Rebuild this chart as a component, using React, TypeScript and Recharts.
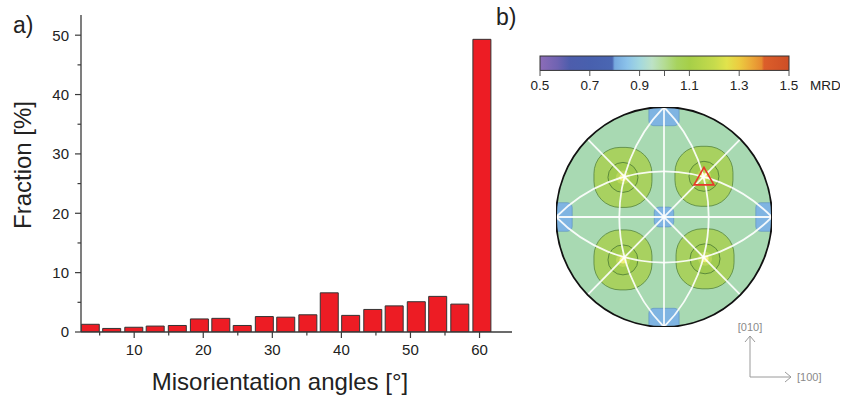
import {
  BarChart,
  Bar,
  XAxis,
  YAxis,
  ScatterChart,
  Scatter,
  Label,
} from "recharts";

// ---- panel a) misorientation histogram ----
const ANGLES = [3.6, 6.7, 9.9, 13.0, 16.2, 19.4, 22.5, 25.6, 28.8, 31.9, 35.1, 38.2, 41.3, 44.5, 47.6, 50.8, 53.9, 57.1, 60.3];
const FRACTIONS = [1.3, 0.6, 0.8, 1.0, 1.1, 2.2, 2.3, 1.1, 2.6, 2.5, 2.9, 6.6, 2.8, 3.8, 4.4, 5.1, 6.0, 4.7, 49.3];
const X_TICKS = [5, 10, 15, 20, 25, 30, 35, 40, 45, 50, 55, 60];
const Y_TICKS = [0, 5, 10, 15, 20, 25, 30, 35, 40, 45, 50];

// ---- panel b) colour bar ----
const MRD_TICKS = [0.5, 0.6, 0.7, 0.8, 0.9, 1.0, 1.1, 1.2, 1.3, 1.4, 1.5];
const MRD_LABELS = ["0.5", "0.7", "0.9", "1.1", "1.3", "1.5"];
const MRD_VALUES = [0.5, 0.57, 0.62, 0.7, 0.79, 0.8, 0.85, 0.9, 0.95, 1.0, 1.05, 1.1, 1.2, 1.25, 1.3, 1.35, 1.39, 1.4, 1.5];
const MRD_COLORS = [
  "#8c6cb8", "#6f63b2", "#4d5dac", "#4860ae", "#4a66b2", "#76a9df", "#8cc3ea", "#a3d8df", "#bde2c6",
  "#b4dc93", "#a7d35e", "#a6cf48", "#c6db4c", "#e1e34c", "#eccc40", "#eba838", "#e68a30", "#dc5e2a", "#cd4e26",
];

// ---- panel b) {111} pole figure ----
const DISC = [{ x: 0, y: 0 }];
const LOW_PATCHES = [
  { x: 0, y: 0, hw: 0.09, hh: 0.09 },
  { x: 0, y: 1, hw: 0.14, hh: 0.17 },
  { x: 0, y: -1, hw: 0.14, hh: 0.17 },
  { x: 1, y: 0, hw: 0.15, hh: 0.13 },
  { x: -1, y: 0, hw: 0.15, hh: 0.13 },
];
const POLES_111 = [
  { x: -0.38, y: 0.36 },
  { x: 0.37, y: 0.37 },
  { x: -0.38, y: -0.39 },
  { x: 0.38, y: -0.38 },
];
const GREAT_CIRCLES = [
  { x: -1, y: 0, r: 1.414 },
  { x: 1, y: 0, r: 1.414 },
  { x: 0, y: 1, r: 1.414 },
  { x: 0, y: -1, r: 1.414 },
];
const STRAIGHT_CIRCLES = [
  { x: 0, y: 0, angle: 0 },
  { x: 0, y: 0, angle: 45 },
  { x: 0, y: 0, angle: 90 },
  { x: 0, y: 0, angle: 135 },
];
const MARKED = [{ x: 0.37, y: 0.37 }];

const FONT = "'Liberation Sans', Arial, sans-serif";
const AXIS = "#3a3a3a";
const PF_W = 216;
const PF_H = 220;
const SX = PF_W / 2;
const SY = PF_H / 2;

const histData = ANGLES.map((angle, i) => ({ angle, fraction: FRACTIONS[i] }));

function XTick(props: any) {
  const { x, y, payload } = props;
  const major = payload.value % 10 === 0;
  return (
    <g>
      <line x1={x} y1={y} x2={x} y2={y + (major ? 6 : 3.5)} stroke={AXIS} strokeWidth={1.2} />
      {major && (
        <text x={x} y={y + 22.5} textAnchor="middle" fontSize={15} fill="#222" fontFamily={FONT}>
          {payload.value}
        </text>
      )}
    </g>
  );
}

function YTick(props: any) {
  const { x, y, payload } = props;
  const major = payload.value % 10 === 0;
  return (
    <g>
      <line x1={x - (major ? 6 : 3.5)} y1={y} x2={x} y2={y} stroke={AXIS} strokeWidth={1.2} />
      {major && (
        <text x={x - 12} y={y + 5.4} textAnchor="end" fontSize={15} fill="#222" fontFamily={FONT}>
          {payload.value}
        </text>
      )}
    </g>
  );
}

function MrdTick(props: any) {
  const { x, y, payload } = props;
  const label = payload.value.toFixed(1);
  return (
    <g>
      <line x1={x} y1={y} x2={x} y2={y + 5} stroke="#555" strokeWidth={1} />
      {MRD_LABELS.includes(label) && (
        <text x={x} y={y + 19} textAnchor="middle" fontSize={13.5} fill="#222" fontFamily={FONT}>
          {label}
        </text>
      )}
    </g>
  );
}

function ColorBarShape(props: any) {
  const { x, y, width, height } = props;
  return (
    <g>
      <defs>
        <linearGradient id="mrdGrad" x1="0" y1="0" x2="1" y2="0">
          {MRD_VALUES.map((v, i) => (
            <stop key={i} offset={(v - 0.5) / 1.0} stopColor={MRD_COLORS[i]} />
          ))}
        </linearGradient>
      </defs>
      <rect x={x} y={y} width={width} height={height} fill="url(#mrdGrad)" stroke="#333" strokeWidth={1} />
    </g>
  );
}

function DiscShape(props: any) {
  const { cx, cy } = props;
  return (
    <g>
      <defs>
        <clipPath id="pfClip">
          <ellipse cx={cx} cy={cy} rx={SX} ry={SY} />
        </clipPath>
      </defs>
      <ellipse cx={cx} cy={cy} rx={SX} ry={SY} fill="#a8d9b2" />
    </g>
  );
}

function PatchShape(props: any) {
  const { cx, cy, payload } = props;
  const w = payload.hw * SX;
  const h = payload.hh * SY;
  return (
    <rect
      x={cx - w}
      y={cy - h}
      width={2 * w}
      height={2 * h}
      rx={5}
      fill="#7fb4e2"
      stroke="#5b8fbf"
      strokeWidth={0.6}
      clipPath="url(#pfClip)"
    />
  );
}

function LobeShape(props: any) {
  const { cx, cy } = props;
  return (
    <g>
      <rect x={cx - 29} y={cy - 30} width={58} height={60} rx={26} fill="#a8d160" stroke="#55843c" strokeWidth={0.8} />
      <circle cx={cx} cy={cy} r={15} fill="#a0cb50" stroke="#4a7a35" strokeWidth={0.8} />
      <circle cx={cx} cy={cy} r={7} fill="#b8d65a" />
      <circle cx={cx} cy={cy} r={3.5} fill="#eef07a" />
    </g>
  );
}

function ArcShape(props: any) {
  const { cx, cy, payload } = props;
  return (
    <ellipse
      cx={cx}
      cy={cy}
      rx={payload.r * SX}
      ry={payload.r * SY}
      fill="none"
      stroke="#ffffff"
      strokeOpacity={0.9}
      strokeWidth={1.8}
      clipPath="url(#pfClip)"
    />
  );
}

function StraightShape(props: any) {
  const { cx, cy, payload } = props;
  const a = (payload.angle * Math.PI) / 180;
  const dx = Math.cos(a) * SX;
  const dy = Math.sin(a) * SY;
  return (
    <line
      x1={cx - dx}
      y1={cy - dy}
      x2={cx + dx}
      y2={cy + dy}
      stroke="#ffffff"
      strokeOpacity={0.9}
      strokeWidth={1.8}
    />
  );
}

function OutlineShape(props: any) {
  const { cx, cy } = props;
  return <ellipse cx={cx} cy={cy} rx={SX} ry={SY} fill="none" stroke="#111" strokeWidth={1.8} />;
}

function TriangleShape(props: any) {
  const { cx, cy } = props;
  const pts = `${cx},${cy - 9} ${cx - 10},${cy + 8.6} ${cx + 10},${cy + 8.6}`;
  return <polygon points={pts} fill="none" stroke="#e8382a" strokeWidth={1.6} />;
}

export default function App() {
  return (
    <div style={{ position: "absolute", left: 0, top: 0, width: 843, height: 395, background: "#fff", fontFamily: FONT }}>
      {/* a) histogram */}
      <div style={{ position: "absolute", left: 0, top: 0 }}>
        <BarChart width={520} height={395} data={histData} margin={{ top: 15, right: 8, bottom: 0, left: 0 }}>
          <XAxis
            type="number"
            dataKey="angle"
            domain={[2.3, 64.7]}
            ticks={X_TICKS}
            allowDataOverflow
            height={63}
            tickSize={0}
            tickMargin={0}
            tickLine={false}
            axisLine={{ stroke: AXIS, strokeWidth: 1.3 }}
            tick={(p: any) => <XTick {...p} />}
          >
            <Label
              content={(p: any) => {
                const vb = p.viewBox;
                return (
                  <text x={280} y={vb.y + 58} textAnchor="middle" fontSize={24} fill="#222" fontFamily={FONT}>
                    Misorientation angles [°]
                  </text>
                );
              }}
            />
          </XAxis>
          <YAxis
            type="number"
            domain={[0, 53.4]}
            ticks={Y_TICKS}
            allowDataOverflow
            width={81}
            tickSize={0}
            tickMargin={0}
            tickLine={false}
            axisLine={{ stroke: AXIS, strokeWidth: 1.3 }}
            tick={(p: any) => <YTick {...p} />}
          >
            <Label
              content={() => (
                <text
                  x={31}
                  y={165}
                  transform="rotate(-90 31 165)"
                  textAnchor="middle"
                  fontSize={24}
                  fill="#222"
                  fontFamily={FONT}
                >
                  Fraction [%]
                </text>
              )}
            />
          </YAxis>
          <Bar dataKey="fraction" barSize={18} fill="#ed1c24" stroke="#333" strokeWidth={1} isAnimationActive={false} />
        </BarChart>
      </div>

      {/* b) colour bar */}
      <div style={{ position: "absolute", left: 530, top: 40 }}>
        <BarChart
          width={310}
          height={60}
          layout="vertical"
          data={[{ name: "MRD", range: [0.5, 1.5] }]}
          margin={{ top: 15, right: 51, bottom: 0, left: 10 }}
          barCategoryGap={0}
        >
          <XAxis
            type="number"
            domain={[0.5, 1.5]}
            ticks={MRD_TICKS}
            height={29}
            tickSize={0}
            tickMargin={0}
            tickLine={false}
            axisLine={false}
            tick={(p: any) => <MrdTick {...p} />}
          >
            <Label
              content={(p: any) => {
                const vb = p.viewBox;
                return (
                  <text x={vb.x + vb.width + 21} y={vb.y + 19} fontSize={13.5} fill="#222" fontFamily={FONT}>
                    MRD
                  </text>
                );
              }}
            />
          </XAxis>
          <YAxis type="category" dataKey="name" hide />
          <Bar dataKey="range" barSize={16} shape={(p: any) => <ColorBarShape {...p} />} isAnimationActive={false} />
        </BarChart>
      </div>

      {/* b) pole figure */}
      <div style={{ position: "absolute", left: 530, top: 95 }}>
        <ScatterChart width={270} height={250} margin={{ top: 12, right: 28, bottom: 18, left: 26 }}>
          <XAxis type="number" dataKey="x" domain={[-1, 1]} hide allowDataOverflow />
          <YAxis type="number" dataKey="y" domain={[-1, 1]} hide allowDataOverflow />
          <Scatter data={DISC} shape={(p: any) => <DiscShape {...p} />} isAnimationActive={false} />
          <Scatter data={LOW_PATCHES} shape={(p: any) => <PatchShape {...p} />} isAnimationActive={false} />
          <Scatter data={POLES_111} shape={(p: any) => <LobeShape {...p} />} isAnimationActive={false} />
          <Scatter data={GREAT_CIRCLES} shape={(p: any) => <ArcShape {...p} />} isAnimationActive={false} />
          <Scatter data={STRAIGHT_CIRCLES} shape={(p: any) => <StraightShape {...p} />} isAnimationActive={false} />
          <Scatter data={DISC} shape={(p: any) => <OutlineShape {...p} />} isAnimationActive={false} />
          <Scatter data={MARKED} shape={(p: any) => <TriangleShape {...p} />} isAnimationActive={false} />
        </ScatterChart>
      </div>

      {/* panel letters and sample axes */}
      <svg width={843} height={395} style={{ position: "absolute", left: 0, top: 0, pointerEvents: "none" }}>
        <text x={13} y={33} fontSize={23} fill="#222" fontFamily={FONT}>a)</text>
        <text x={496} y={25} fontSize={23} fill="#222" fontFamily={FONT}>b)</text>
        <text x={750} y={331} textAnchor="middle" fontSize={11} fill="#8a8a8a" fontFamily={FONT}>[010]</text>
        <text x={797} y={381} fontSize={11} fill="#8a8a8a" fontFamily={FONT}>[100]</text>
        <g stroke="#9a9a9a" strokeWidth={1} fill="none">
          <polyline points="750,336 750,377 791,377" />
          <polyline points="745,342 750,336 755,342" />
          <polyline points="785,372 791,377 785,382" />
        </g>
      </svg>
    </div>
  );
}
